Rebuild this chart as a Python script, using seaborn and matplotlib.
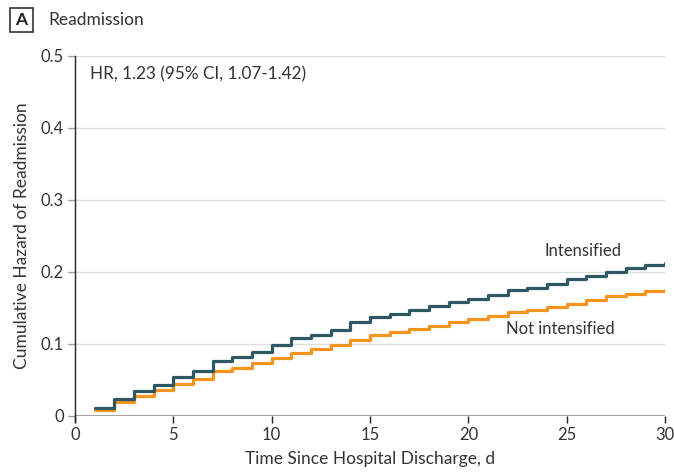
import matplotlib
matplotlib.use("Agg")
import matplotlib.pyplot as plt
import seaborn as sns
import pandas as pd
from matplotlib.patches import FancyBboxPatch

days = list(range(1, 31))
intensified = [0.011, 0.024, 0.035, 0.043, 0.054, 0.063, 0.077, 0.082, 0.089, 0.099,
               0.108, 0.113, 0.120, 0.130, 0.137, 0.141, 0.147, 0.153, 0.158, 0.163,
               0.168, 0.175, 0.178, 0.184, 0.190, 0.195, 0.200, 0.205, 0.210, 0.212]
not_intensified = [0.008, 0.019, 0.028, 0.036, 0.044, 0.051, 0.063, 0.067, 0.073, 0.081,
                   0.087, 0.093, 0.099, 0.106, 0.112, 0.116, 0.121, 0.125, 0.131, 0.135,
                   0.139, 0.144, 0.147, 0.151, 0.156, 0.161, 0.166, 0.170, 0.174, 0.175]
x_ticks = [0, 5, 10, 15, 20, 25, 30]
y_ticks = [0, 0.1, 0.2, 0.3, 0.4, 0.5]
y_tick_labels = ["0", "0.1", "0.2", "0.3", "0.4", "0.5"]

sns.set_theme(style="white")
plt.rcParams['font.family'] = ['Lato', 'DejaVu Sans']

df = pd.DataFrame({
    "day": days * 2,
    "hazard": intensified + not_intensified,
    "group": ["Intensified"] * len(days) + ["Not intensified"] * len(days),
})

dark = "#2f5865"
orange = "#f7941d"
text_c = "#333333"

fig = plt.figure(figsize=(6.74, 4.76), dpi=100)
ax = fig.add_axes([75 / 674, 1 - 416 / 476, 590 / 674, 360 / 476])

for y in y_ticks[1:]:
    ax.axhline(y, color="#dddddd", lw=1.0, zorder=0)
ax.axhline(0, color="#999999", lw=2.0, zorder=1)

sns.lineplot(data=df[df.group == "Not intensified"], x="day", y="hazard",
             drawstyle="steps-post", color=orange, lw=2.3, ax=ax, zorder=3)
sns.lineplot(data=df[df.group == "Intensified"], x="day", y="hazard",
             drawstyle="steps-post", color=dark, lw=2.3, ax=ax, zorder=4)

ax.set_xlim(0, 30)
ax.set_ylim(0, 0.5)
ax.set_xticks(x_ticks)
ax.set_yticks(y_ticks)
ax.set_yticklabels(y_tick_labels)
for s in ["top", "right", "bottom"]:
    ax.spines[s].set_visible(False)
ax.spines["left"].set_color("#222222")
ax.spines["left"].set_linewidth(1.0)
ax.spines["left"].set_bounds(-0.008, 0.5)
ax.tick_params(axis="x", direction="out", length=5, width=1, color="#222222",
               labelsize=12, labelcolor=text_c, pad=3, bottom=True)
ax.tick_params(axis="y", direction="out", length=5, width=1, color="#999999",
               labelsize=12, labelcolor=text_c, pad=3, left=True)
ax.set_xlabel("Time Since Hospital Discharge, d", fontsize=12.5, color=text_c, labelpad=6)
ax.set_ylabel("Cumulative Hazard of Readmission", fontsize=12.5, color=text_c, labelpad=8)

ax.text(0.75, 0.475, "HR, 1.23 (95% CI, 1.07-1.42)", fontsize=12.3, color=text_c,
        va="center", ha="left")
ax.text(23.85, 0.229, "Intensified", fontsize=12, color=text_c, va="center", ha="left")
ax.text(21.9, 0.121, "Not intensified", fontsize=12, color=text_c, va="center", ha="left")

box = FancyBboxPatch((10 / 674, 1 - 32 / 476), 23 / 674, 24 / 476,
                     boxstyle="square,pad=0", transform=fig.transFigure,
                     fill=False, edgecolor="#333333", lw=1.2)
fig.patches.append(box)
fig.text(21.5 / 674, 1 - 20 / 476, "A", fontsize=12.5, fontweight="bold",
         color="#222222", ha="center", va="center")
fig.text(48 / 674, 1 - 20 / 476, "Readmission", fontsize=12.5, color=text_c,
         ha="left", va="center")

fig.savefig("out.png", dpi=100)
